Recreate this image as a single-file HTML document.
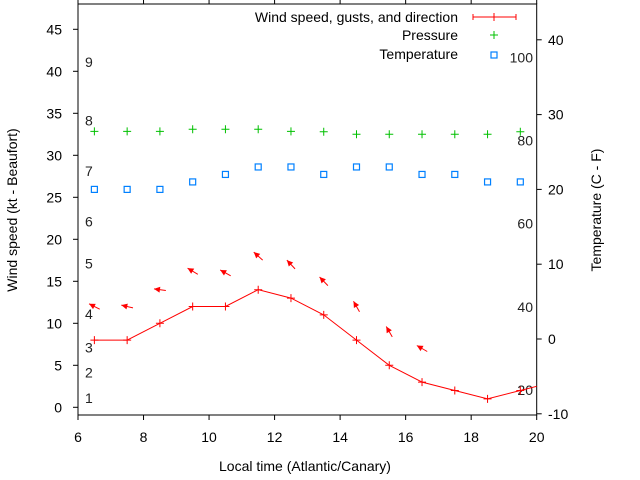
<!DOCTYPE html>
<html><head><meta charset="utf-8"><style>
body{margin:0;background:#fff}
svg{display:block;font-family:"Liberation Sans",sans-serif}
</style></head><body>
<svg id="c" width="640" height="480" viewBox="0 0 640 480" xmlns="http://www.w3.org/2000/svg">
<defs><clipPath id="pc"><rect x="78" y="4" width="458.7" height="411"/></clipPath></defs>
<g id="axes"></g>
<g id="marks" clip-path="url(#pc)"></g>
<g id="legend"></g>
<text x="17" y="210" font-size="14" text-anchor="middle" transform="rotate(-90 17 210)">Wind speed (kt - Beaufort)</text>
<text x="601" y="210" font-size="14" text-anchor="middle" transform="rotate(-90 601 210)">Temperature (C - F)</text>
<text x="305" y="471" font-size="14" text-anchor="middle">Local time (Atlantic/Canary)</text>
</svg>
<script>
const times=[6.5,7.5,8.5,9.5,10.5,11.5,12.5,13.5,14.5,15.5,16.5,17.5,18.5,19.5,20.5];
const windSpeed=[8,8,10,12,12,14,13,11,8,5,3,2,1,2,3];
const gust=[12,12,14,16.2,16,18,17,15,12,9,7];
const arrowAngle=[153,167,172,149,151,138,133,134,120,120,150];
const pressure=[32.85,32.85,32.85,33.1,33.1,33.1,32.85,32.8,32.5,32.5,32.5,32.5,32.5,32.8];
const temperature=[20,20,20,21,22,23,23,22,23,23,22,22,21,21];
const xTicks=[6,8,10,12,14,16,18,20];
const yTicks=[0,5,10,15,20,25,30,35,40,45];
const y2Ticks=[-10,0,10,20,30,40];
const beaufort=[1,4,7,11,17,22,28,34,41];
const fahrenheit=[20,40,60,80,100];

const NS='http://www.w3.org/2000/svg';
const L=78,R=536.7,T=4,B=415;
const X=v=>L+(v-6)*(R-L)/14;
const Y=v=>407.3-v*8.4;
const Y2=v=>339-v*7.48;
function mk(p,tag,at){const e=document.createElementNS(NS,tag);for(const k in at)e.setAttribute(k,at[k]);p.appendChild(e);return e;}
const ax=document.getElementById('axes'),mg=document.getElementById('marks'),lg=document.getElementById('legend');
let e=mk(ax,'rect',{x:L,y:T,width:R-L,height:B-T,fill:'none',stroke:'#000','stroke-width':1});


xTicks.forEach(v=>{
 let t=mk(ax,'path',{d:`M${X(v)},${B}v5M${X(v)},${T}v-5`,stroke:'#000'});
 
 
 let s=mk(ax,'text',{x:X(v),y:442,'font-size':14,'text-anchor':'middle'});s.textContent=v;
 
 
});
yTicks.forEach(v=>{
 let t=mk(ax,'path',{d:`M${L},${Y(v)}h-5`,stroke:'#000'});
 
 
 let s=mk(ax,'text',{x:62,y:Y(v)+5,'font-size':14,'text-anchor':'end'});s.textContent=v;
 
 
});
y2Ticks.forEach(v=>{
 let t=mk(ax,'path',{d:`M${R},${Y2(v)}h5`,stroke:'#000'});
 
 
 let s=mk(ax,'text',{x:548,y:Y2(v)+5,'font-size':14});s.textContent=v;
 
 
});
beaufort.forEach((v,i)=>{
 let s=mk(ax,'text',{x:85,y:Y(v)+4,'font-size':14,fill:'#222'});s.textContent=i+1;
 
 
});
fahrenheit.forEach(f=>{
 let s=mk(ax,'text',{x:533,y:Y2((f-32)*5/9)+6,'font-size':14,'text-anchor':'end',fill:'#222'});s.textContent=f;
 
 
});
let pts=times.map((t,i)=>X(t)+','+Y(windSpeed[i])).join(' ');
e=mk(mg,'polyline',{points:pts,fill:'none',stroke:'#f00','stroke-width':1});


times.forEach((t,i)=>{
 let p=mk(mg,'path',{d:`M${X(t)-4},${Y(windSpeed[i])}h8M${X(t)},${Y(windSpeed[i])-4}v8`,stroke:'#f00'});
 
 
});
gust.forEach((g,i)=>{
 const cx=X(times[i]),cy=Y(g),a=arrowAngle[i]*Math.PI/180,dx=Math.cos(a),dy=-Math.sin(a);
 const hx=cx+dx*6,hy=cy+dy*6,tx=cx-dx*6,ty=cy-dy*6;
 const px=-dy,py=dx;
 let gg=mk(mg,'g',{});
 
 
 mk(gg,'line',{x1:tx,y1:ty,x2:hx,y2:hy,stroke:'#f00'});
 mk(gg,'polygon',{points:`${hx},${hy} ${hx-dx*6+px*3},${hy-dy*6+py*3} ${hx-dx*6-px*3},${hy-dy*6-py*3}`,fill:'#f00'});
});
pressure.forEach((v,i)=>{
 const x=X(times[i]),y=Y(v);
 let p=mk(mg,'path',{d:`M${x-4},${y}h8M${x},${y-4}v8`,stroke:'#00c000'});
 
 
});
temperature.forEach((v,i)=>{
 const x=X(times[i]),y=Y2(v);
 let p=mk(mg,'rect',{x:x-3,y:y-3,width:6,height:6,fill:'none',stroke:'#0080ff','stroke-width':1.2});
 
 
});
const lt=[['Wind speed, gusts, and direction',17],['Pressure',35],['Temperature',54]];
lt.forEach(([s,y])=>{let t=mk(lg,'text',{x:458,y:y+5,'font-size':14,'text-anchor':'end'});t.textContent=s;
 
 });
e=mk(lg,'path',{d:'M473,17h43M473,14v6M516,14v6M490,17h8M494,13v8',stroke:'#f00'});


e=mk(lg,'path',{d:'M490,35h8M494,31v8',stroke:'#00c000'});


e=mk(lg,'rect',{x:491,y:52,width:6,height:6,fill:'none',stroke:'#0080ff','stroke-width':1.2});


</script>
</body></html>
